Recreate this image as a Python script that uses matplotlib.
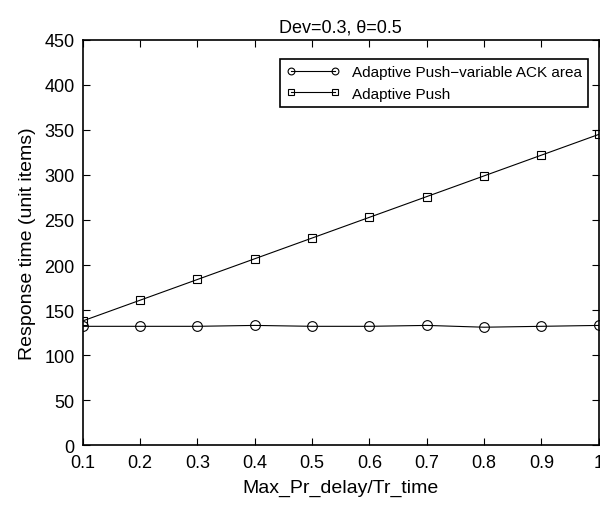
import matplotlib
matplotlib.use("Agg")
import matplotlib.pyplot as plt

plt.rcParams['font.family'] = ['Liberation Sans', 'DejaVu Sans']

x = [0.1, 0.2, 0.3, 0.4, 0.5, 0.6, 0.7, 0.8, 0.9, 1.0]
var_ack = [132, 132, 132, 133, 132, 132, 133, 131, 132, 133]
adaptive = [138, 161, 184, 207, 230, 253, 276, 299, 322, 345]

fig = plt.figure(figsize=(6, 5.1), dpi=100)
ax = fig.add_axes([0.138, 0.125, 0.86, 0.795])

ax.plot(x, var_ack, color='black', linewidth=0.8, marker='o', markersize=7,
        markerfacecolor='none', markeredgewidth=0.8,
        label='Adaptive Push\u2212variable ACK area')
ax.plot(x, adaptive, color='black', linewidth=0.8, marker='s', markersize=5.5,
        markerfacecolor='none', markeredgewidth=0.8, label='Adaptive Push')

ax.set_xlim(0.1, 1.0)
ax.set_ylim(0, 450)
ax.set_xticks(x)
ax.set_xticklabels(['0.1', '0.2', '0.3', '0.4', '0.5', '0.6', '0.7', '0.8', '0.9', '1'])
ax.set_yticks(range(0, 451, 50))
ax.tick_params(direction='in', top=True, right=True, labelsize=13, length=5, pad=6)
for s in ax.spines.values():
    s.set_linewidth(1.2)

ax.set_title('Dev=0.3, \u03b8=0.5', fontsize=13, pad=6)
ax.set_xlabel('Max_Pr_delay/Tr_time', fontsize=14, labelpad=6)
ax.set_ylabel('Response time (unit items)', fontsize=14, labelpad=6)

leg = ax.legend(loc='upper right', bbox_to_anchor=(0.979, 0.953), borderaxespad=0,
                fontsize=11, fancybox=False, edgecolor='black', framealpha=1,
                numpoints=2, handlelength=3.5, borderpad=0.4, markerscale=0.7)
leg.get_frame().set_linewidth(1.2)

fig.savefig('out.png', dpi=100)
